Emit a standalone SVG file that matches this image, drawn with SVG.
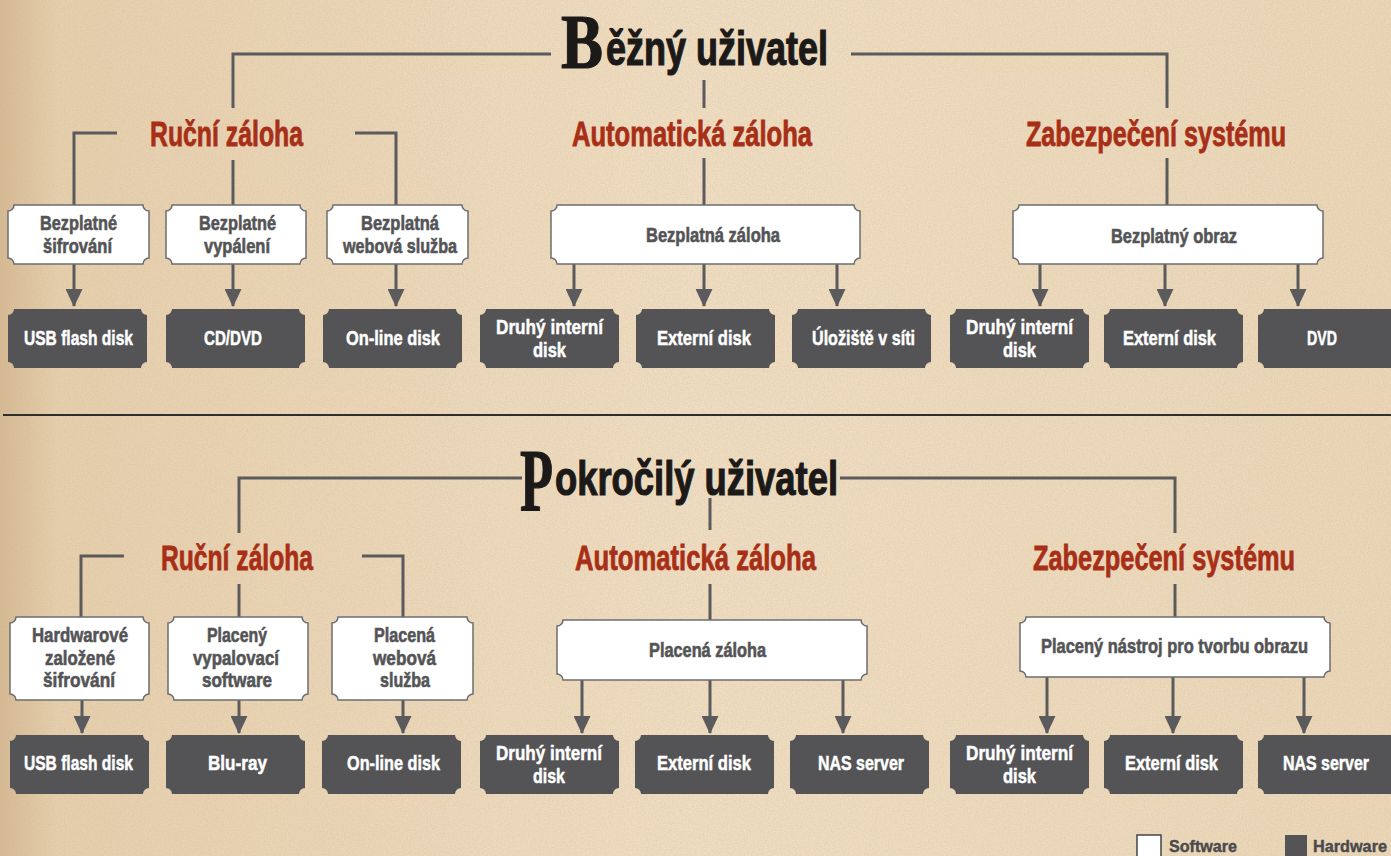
<svg xmlns="http://www.w3.org/2000/svg" xmlns:xlink="http://www.w3.org/1999/xlink" width="1391" height="856" viewBox="0 0 1391 856">
<style>
text{font-family:"Liberation Sans","DejaVu Sans",sans-serif;font-weight:bold}
.title{font-size:48px;fill:#1c1a19;stroke:#1c1a19;stroke-width:1.2}
.bl{font-family:"Liberation Serif","DejaVu Serif",serif;font-weight:bold}
.hd{font-size:35px;fill:#a82f17;stroke:#a82f17;stroke-width:0.8}
.sw{font-size:20px;fill:#545456;stroke:#545456;stroke-width:0.6}
.hwt{font-size:21px;fill:#ffffff;stroke:#ffffff;stroke-width:0.5}
.lg{font-size:16px;fill:#4a4a4c;stroke:#4a4a4c;stroke-width:0.4}
.swbox{fill:#ffffff;stroke:#6d6d6f;stroke-width:1.5}
.hwbox{fill:#545456}
.con{fill:none;stroke:#5b5b5d;stroke-width:3}
.arr{fill:none;stroke:#5b5b5d;stroke-width:3;marker-end:url(#ah)}
</style>
<defs>
<linearGradient id="bg" x1="0" y1="0" x2="1" y2="0">
<stop offset="0" stop-color="#d6ba94"/>
<stop offset="0.04" stop-color="#e7d0ae"/>
<stop offset="0.5" stop-color="#f1dfc4"/>
<stop offset="1" stop-color="#ecd8b9"/>
</linearGradient>
<filter id="noise" x="0" y="0" width="100%" height="100%">
<feTurbulence type="fractalNoise" baseFrequency="0.7" numOctaves="2" seed="4"/>
<feColorMatrix type="matrix" values="0 0 0 0 0.55  0 0 0 0 0.42  0 0 0 0 0.26  0.45 0 0 0 -0.12"/>
</filter>
<marker id="ah" markerUnits="userSpaceOnUse" markerWidth="18" markerHeight="17" refX="17" refY="8.5" orient="auto">
<path d="M0,0 L18,8.5 L0,17 Z" fill="#5b5b5d"/>
</marker>
<path id="hw" d="M6,0 h127 a6,6 0 0 0 6,6 v47 a6,6 0 0 0 -6,6 h-127 a6,6 0 0 0 -6,-6 v-47 a6,6 0 0 0 6,-6 Z"/>
</defs>
<rect x="0" y="0" width="1391" height="856" fill="url(#bg)"/>
<rect x="0" y="0" width="1391" height="856" filter="url(#noise)"/>

<g id="connectors">
<path class="con" d="M233,108 V54 H551"/>
<path class="con" d="M851,54 H1167 V108"/>
<path class="con" d="M704,80 V108"/>
<path class="con" d="M117,133 H74 V205"/>
<path class="con" d="M233,160 V205"/>
<path class="con" d="M355,133 H396 V205"/>
<path class="con" d="M704,158 V205"/>
<path class="con" d="M1167,158 V205"/>
<path class="arr" d="M74,264 V306"/>
<path class="arr" d="M233,264 V306"/>
<path class="arr" d="M396,264 V306"/>
<path class="arr" d="M574,264 V306"/>
<path class="arr" d="M704,264 V306"/>
<path class="arr" d="M837,264 V306"/>
<path class="arr" d="M1040,264 V306"/>
<path class="arr" d="M1165,264 V306"/>
<path class="arr" d="M1298,264 V306"/>
<path d="M3,415 H1391" stroke="#2e2e2e" stroke-width="2" fill="none"/>
<path class="con" d="M239,533 V478 H522"/>
<path class="con" d="M840,478 H1175 V533"/>
<path class="con" d="M710,498 V530"/>
<path class="con" d="M124,556 H81 V617"/>
<path class="con" d="M239,584 V617"/>
<path class="con" d="M362,556 H403 V617"/>
<path class="con" d="M710,584 V620"/>
<path class="con" d="M1175,584 V617"/>
<path class="arr" d="M82,700 V733"/>
<path class="arr" d="M239,700 V733"/>
<path class="arr" d="M403,700 V733"/>
<path class="arr" d="M582,680 V733"/>
<path class="arr" d="M710,680 V733"/>
<path class="arr" d="M843,680 V733"/>
<path class="arr" d="M1047,677 V733"/>
<path class="arr" d="M1173,677 V733"/>
<path class="arr" d="M1304,677 V733"/>
</g>

<g id="title-bezny">
<text class="title" y="65"><tspan class="bl" x="561" y="68" font-size="78" textLength="42" lengthAdjust="spacingAndGlyphs">B</tspan><tspan x="606" y="65" textLength="222" lengthAdjust="spacingAndGlyphs">ěžný uživatel</tspan></text>
</g>
<g id="hd-rucni-1"><text class="hd" x="150" y="146" textLength="153" lengthAdjust="spacingAndGlyphs">Ruční záloha</text></g>
<g id="hd-auto-1"><text class="hd" x="572" y="146" textLength="240" lengthAdjust="spacingAndGlyphs">Automatická záloha</text></g>
<g id="hd-zab-1"><text class="hd" x="1026" y="146" textLength="260" lengthAdjust="spacingAndGlyphs">Zabezpečení systému</text></g>

<g id="sw-sifrovani-1"><path class="swbox" d="M14,205 h129 a6,6 0 0 0 6,6 v47 a6,6 0 0 0 -6,6 h-129 a6,6 0 0 0 -6,-6 v-47 a6,6 0 0 0 6,-6 Z"/>
<text class="sw" x="40" y="230" textLength="77" lengthAdjust="spacingAndGlyphs">Bezplatné</text>
<text class="sw" x="43" y="253" textLength="69" lengthAdjust="spacingAndGlyphs">šifrování</text></g>
<g id="sw-vypaleni-1"><path class="swbox" d="M172,205 h128 a6,6 0 0 0 6,6 v47 a6,6 0 0 0 -6,6 h-128 a6,6 0 0 0 -6,-6 v-47 a6,6 0 0 0 6,-6 Z"/>
<text class="sw" x="199" y="230" textLength="77" lengthAdjust="spacingAndGlyphs">Bezplatné</text>
<text class="sw" x="204" y="253" textLength="66" lengthAdjust="spacingAndGlyphs">vypálení</text></g>
<g id="sw-web-1"><path class="swbox" d="M333,205 h129 a6,6 0 0 0 6,6 v47 a6,6 0 0 0 -6,6 h-129 a6,6 0 0 0 -6,-6 v-47 a6,6 0 0 0 6,-6 Z"/>
<text class="sw" x="361" y="230" textLength="78" lengthAdjust="spacingAndGlyphs">Bezplatná</text>
<text class="sw" x="343" y="253" textLength="114" lengthAdjust="spacingAndGlyphs">webová služba</text></g>
<g id="sw-zaloha-1"><path class="swbox" d="M557,205 h297 a6,6 0 0 0 6,6 v47 a6,6 0 0 0 -6,6 h-297 a6,6 0 0 0 -6,-6 v-47 a6,6 0 0 0 6,-6 Z"/>
<text class="sw" x="646" y="242" textLength="134" lengthAdjust="spacingAndGlyphs">Bezplatná záloha</text></g>
<g id="sw-obraz-1"><path class="swbox" d="M1019,205 h298 a6,6 0 0 0 6,6 v47 a6,6 0 0 0 -6,6 h-298 a6,6 0 0 0 -6,-6 v-47 a6,6 0 0 0 6,-6 Z"/>
<text class="sw" x="1111" y="243" textLength="126" lengthAdjust="spacingAndGlyphs">Bezplatný obraz</text></g>

<g id="hw-usb-1"><use href="#hw" class="hwbox" x="8" y="309"/><text class="hwt" x="24" y="345" textLength="109" lengthAdjust="spacingAndGlyphs">USB flash disk</text></g>
<g id="hw-cd-1"><use href="#hw" class="hwbox" x="166" y="309"/><text class="hwt" x="204" y="345" textLength="58" lengthAdjust="spacingAndGlyphs">CD/DVD</text></g>
<g id="hw-online-1"><use href="#hw" class="hwbox" x="323" y="309"/><text class="hwt" x="346" y="345" textLength="94" lengthAdjust="spacingAndGlyphs">On-line disk</text></g>
<g id="hw-druhy-1"><use href="#hw" class="hwbox" x="480" y="309"/><text class="hwt" x="496" y="334" textLength="107" lengthAdjust="spacingAndGlyphs">Druhý interní</text><text class="hwt" x="533" y="357" textLength="33" lengthAdjust="spacingAndGlyphs">disk</text></g>
<g id="hw-externi-1"><use href="#hw" class="hwbox" x="636" y="309"/><text class="hwt" x="657" y="345" textLength="94" lengthAdjust="spacingAndGlyphs">Externí disk</text></g>
<g id="hw-uloziste-1"><use href="#hw" class="hwbox" x="792" y="309"/><text class="hwt" x="812" y="345" textLength="103" lengthAdjust="spacingAndGlyphs">Úložiště v síti</text></g>
<g id="hw-druhy-2"><use href="#hw" class="hwbox" x="950" y="309"/><text class="hwt" x="966" y="334" textLength="107" lengthAdjust="spacingAndGlyphs">Druhý interní</text><text class="hwt" x="1003" y="357" textLength="33" lengthAdjust="spacingAndGlyphs">disk</text></g>
<g id="hw-externi-2"><use href="#hw" class="hwbox" x="1104" y="309"/><text class="hwt" x="1123" y="345" textLength="93" lengthAdjust="spacingAndGlyphs">Externí disk</text></g>
<g id="hw-dvd-1"><use href="#hw" class="hwbox" x="1258" y="309"/><text class="hwt" x="1307" y="345" textLength="30" lengthAdjust="spacingAndGlyphs">DVD</text></g>

<g id="title-pokrocily">
<text class="title" y="495"><tspan class="bl" x="520" y="510" font-size="88" textLength="33" lengthAdjust="spacingAndGlyphs">P</tspan><tspan x="555" y="495" textLength="283" lengthAdjust="spacingAndGlyphs">okročilý uživatel</tspan></text>
</g>
<g id="hd-rucni-2"><text class="hd" x="161" y="570" textLength="152" lengthAdjust="spacingAndGlyphs">Ruční záloha</text></g>
<g id="hd-auto-2"><text class="hd" x="575" y="570" textLength="241" lengthAdjust="spacingAndGlyphs">Automatická záloha</text></g>
<g id="hd-zab-2"><text class="hd" x="1033" y="570" textLength="262" lengthAdjust="spacingAndGlyphs">Zabezpečení systému</text></g>

<g id="sw-sifrovani-2"><path class="swbox" d="M16,617 h127 a6,6 0 0 0 6,6 v71 a6,6 0 0 0 -6,6 h-127 a6,6 0 0 0 -6,-6 v-71 a6,6 0 0 0 6,-6 Z"/>
<text class="sw" x="32" y="642" textLength="96" lengthAdjust="spacingAndGlyphs">Hardwarové</text>
<text class="sw" x="45" y="665" textLength="70" lengthAdjust="spacingAndGlyphs">založené</text>
<text class="sw" x="43" y="687" textLength="72" lengthAdjust="spacingAndGlyphs">šifrování</text></g>
<g id="sw-vypalovaci-2"><path class="swbox" d="M174,617 h128 a6,6 0 0 0 6,6 v71 a6,6 0 0 0 -6,6 h-128 a6,6 0 0 0 -6,-6 v-71 a6,6 0 0 0 6,-6 Z"/>
<text class="sw" x="207" y="642" textLength="60" lengthAdjust="spacingAndGlyphs">Placený</text>
<text class="sw" x="193" y="665" textLength="86" lengthAdjust="spacingAndGlyphs">vypalovací</text>
<text class="sw" x="202" y="687" textLength="70" lengthAdjust="spacingAndGlyphs">software</text></g>
<g id="sw-web-2"><path class="swbox" d="M338,617 h129 a6,6 0 0 0 6,6 v71 a6,6 0 0 0 -6,6 h-129 a6,6 0 0 0 -6,-6 v-71 a6,6 0 0 0 6,-6 Z"/>
<text class="sw" x="374" y="642" textLength="61" lengthAdjust="spacingAndGlyphs">Placená</text>
<text class="sw" x="373" y="665" textLength="63" lengthAdjust="spacingAndGlyphs">webová</text>
<text class="sw" x="380" y="687" textLength="50" lengthAdjust="spacingAndGlyphs">služba</text></g>
<g id="sw-zaloha-2"><path class="swbox" d="M563,620 h298 a6,6 0 0 0 6,6 v48 a6,6 0 0 0 -6,6 h-298 a6,6 0 0 0 -6,-6 v-48 a6,6 0 0 0 6,-6 Z"/>
<text class="sw" x="649" y="657" textLength="117" lengthAdjust="spacingAndGlyphs">Placená záloha</text></g>
<g id="sw-obraz-2"><path class="swbox" d="M1026,617 h298 a6,6 0 0 0 6,6 v48 a6,6 0 0 0 -6,6 h-298 a6,6 0 0 0 -6,-6 v-48 a6,6 0 0 0 6,-6 Z"/>
<text class="sw" x="1041" y="653" textLength="267" lengthAdjust="spacingAndGlyphs">Placený nástroj pro tvorbu obrazu</text></g>

<g id="hw-usb-2"><use href="#hw" class="hwbox" x="10" y="735"/><text class="hwt" x="24" y="770" textLength="109" lengthAdjust="spacingAndGlyphs">USB flash disk</text></g>
<g id="hw-bluray-2"><use href="#hw" class="hwbox" x="166" y="735"/><text class="hwt" x="208" y="770" textLength="59" lengthAdjust="spacingAndGlyphs">Blu-ray</text></g>
<g id="hw-online-2"><use href="#hw" class="hwbox" x="322" y="735"/><text class="hwt" x="347" y="770" textLength="93" lengthAdjust="spacingAndGlyphs">On-line disk</text></g>
<g id="hw-druhy-3"><use href="#hw" class="hwbox" x="480" y="735"/><text class="hwt" x="496" y="760" textLength="106" lengthAdjust="spacingAndGlyphs">Druhý interní</text><text class="hwt" x="533" y="783" textLength="32" lengthAdjust="spacingAndGlyphs">disk</text></g>
<g id="hw-externi-3"><use href="#hw" class="hwbox" x="635" y="735"/><text class="hwt" x="657" y="770" textLength="94" lengthAdjust="spacingAndGlyphs">Externí disk</text></g>
<g id="hw-nas-1"><use href="#hw" class="hwbox" x="790" y="735"/><text class="hwt" x="818" y="770" textLength="86" lengthAdjust="spacingAndGlyphs">NAS server</text></g>
<g id="hw-druhy-4"><use href="#hw" class="hwbox" x="950" y="735"/><text class="hwt" x="966" y="760" textLength="107" lengthAdjust="spacingAndGlyphs">Druhý interní</text><text class="hwt" x="1003" y="783" textLength="33" lengthAdjust="spacingAndGlyphs">disk</text></g>
<g id="hw-externi-4"><use href="#hw" class="hwbox" x="1104" y="735"/><text class="hwt" x="1125" y="770" textLength="93" lengthAdjust="spacingAndGlyphs">Externí disk</text></g>
<g id="hw-nas-2"><use href="#hw" class="hwbox" x="1258" y="735"/><text class="hwt" x="1283" y="770" textLength="86" lengthAdjust="spacingAndGlyphs">NAS server</text></g>

<g id="legend">
<rect x="1137" y="835" width="24" height="24" fill="#ffffff" stroke="#444446" stroke-width="1.5"/>
<text class="lg" x="1169" y="852" textLength="68" lengthAdjust="spacingAndGlyphs">Software</text>
<rect x="1285" y="835" width="22" height="22" fill="#545456"/>
<text class="lg" x="1313" y="852" textLength="74" lengthAdjust="spacingAndGlyphs">Hardware</text>
</g>
</svg>
